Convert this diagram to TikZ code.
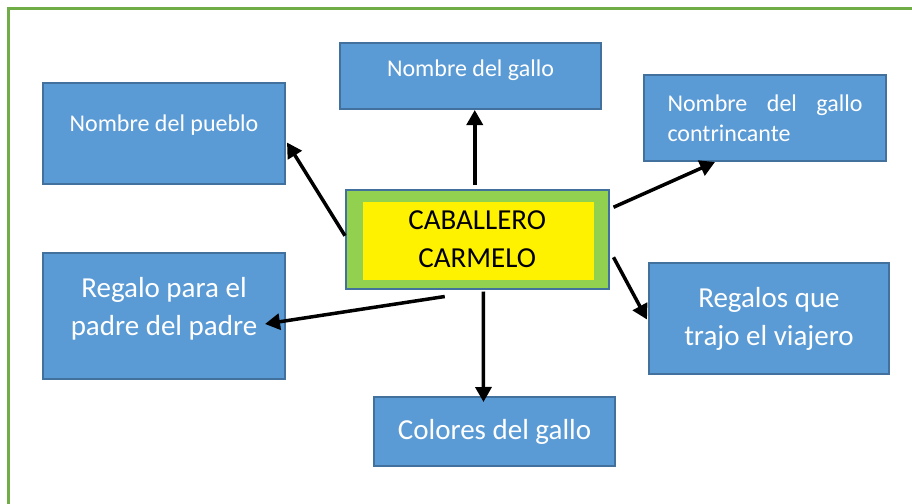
\documentclass[tikz,border=0pt]{standalone}
\usepackage{fontspec}
\setmainfont{Carlito}
\usetikzlibrary{arrows.meta, calc}
\definecolor{boxblue}{HTML}{5B9BD5}
\definecolor{boxline}{HTML}{41719C}
\definecolor{framegreen}{HTML}{70AD47}
\definecolor{centergreen}{HTML}{92D050}

\begin{document}
\begin{tikzpicture}[x=0.5pt, y=-0.5pt, >={Triangle[length=7.5pt, width=8pt]},
	box/.style={draw=boxline, line width=1pt, fill=boxblue, text=white,
		inner sep=0pt, anchor=north west},
	small/.style={font=\fontsize{12}{15}\selectfont},
	big/.style={font=\fontsize{14.5}{19}\selectfont},
	link/.style={->, line width=1.75pt}]
\useasboundingbox (0,0) rectangle (912,504);
\clip (0,0) rectangle (912,504);
% outer frame (runs off the page on the right and bottom)
\draw[framegreen, line width=1.5pt] (8,530) |- (940,8);

%========================
% centre
%========================
\node[draw=boxline, line width=0.75pt, fill=centergreen, big, align=center,
	inner sep=0pt, minimum width=131.5pt, minimum height=49.5pt, anchor=north west,
	path picture={\fill[yellow]
		([shift={(17,12)}]path picture bounding box.north west) rectangle
		([shift={(-15,-9)}]path picture bounding box.south east);}]
	(carmelo) at (345,189) {CABALLERO\\CARMELO};

%========================
% boxes round it
%========================
\node[box, small, minimum width=130.5pt, minimum height=33pt,
	text height=9pt, text depth=9pt] (gallo) at (339,42) {Nombre del gallo};
\node[box, small, minimum width=121pt, minimum height=50.5pt,
	text height=9pt, text depth=11.5pt] (pueblo) at (42,82) {Nombre del pueblo};
\node[box, small, minimum width=121pt, minimum height=43pt,
	text width=97.5pt, align=left] (rival) at (643,74)
	{Nombre\hfill del\hfill gallo\\contrincante};
\node[box, big, minimum width=121pt, minimum height=63pt, align=center,
	text height=29.5pt, text depth=10.5pt] (regalo) at (42,252)
	{Regalo para el\\padre del padre};
\node[box, big, minimum width=120pt, minimum height=55.5pt, align=center]
	(viajero) at (648,262) {Regalos que\\trajo el viajero};
\node[box, big, minimum width=120.5pt, minimum height=34.5pt]
	(colores) at (373,396) {Colores del gallo};

% arrows out of the centre
\draw[link] ($(carmelo.north)+(-2.5,-4)$) -- ($(carmelo.north |- gallo.south)+(-2.5,0)$);
\draw[link] ($(carmelo.west)+(0,-3.5)$) -- ($(pueblo.east)+(1,9)$);
\draw[link] ($(carmelo.east)+(4,-32)$) -- ($(rival.south)+(-50,0)$);
\draw[link] ($(carmelo.east)+(4,18)$) -- ($(viajero.west)+(-1,1)$);
\draw[link] ($(carmelo.south)+(-32.5,7)$) -- ($(regalo.east)+(-21,8)$);
\draw[link] ($(carmelo.south)+(6,2)$) -- ($(colores.north)+(-11,6)$);
\end{tikzpicture}
\end{document}
